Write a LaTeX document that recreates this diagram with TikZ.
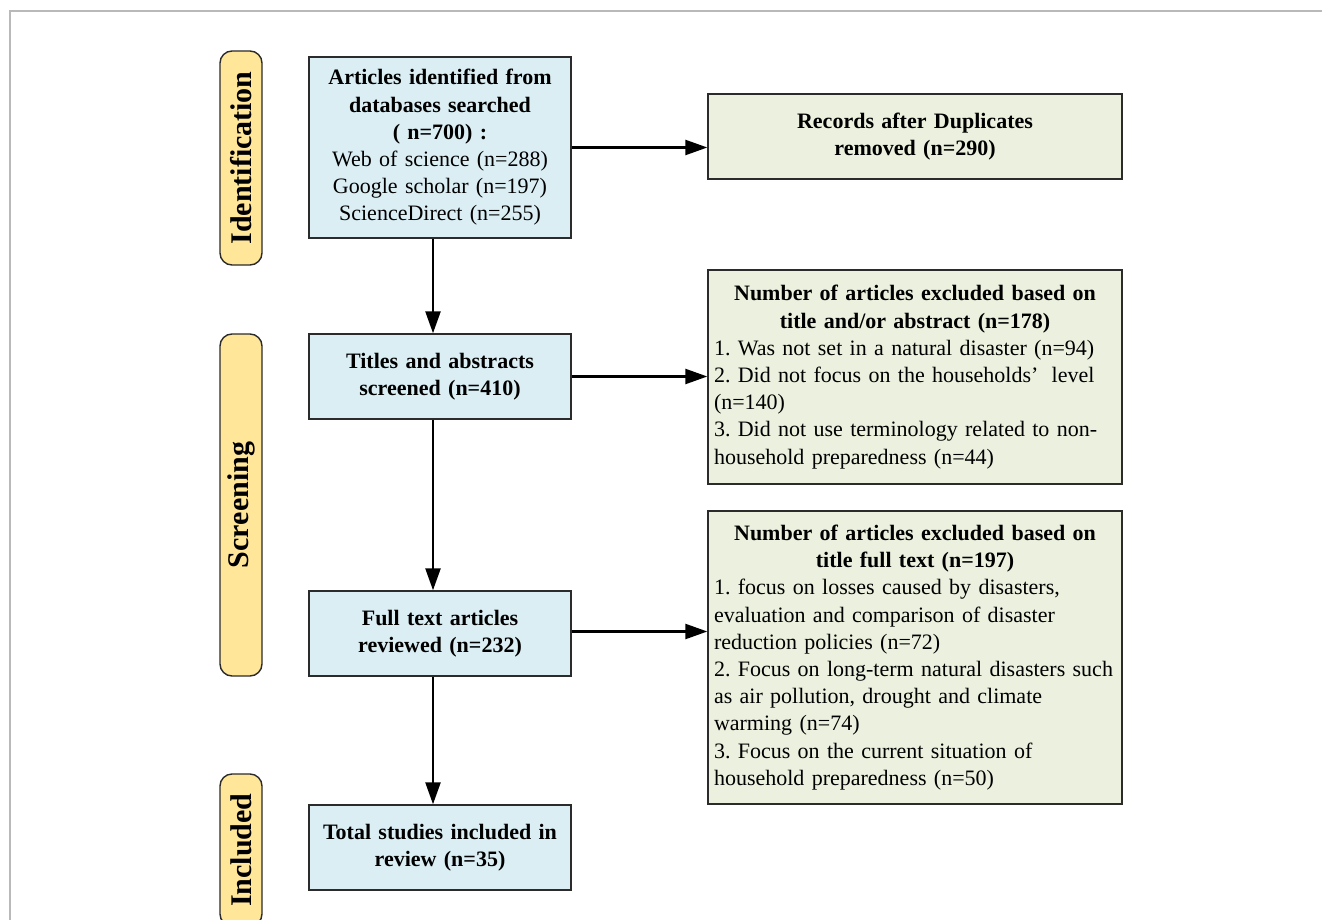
\documentclass[tikz,border=0pt]{standalone}
\usepackage{fontspec}
\setmainfont{Liberation Serif}
\usepackage{xcolor}
\usepackage{tikz}
\usetikzlibrary{arrows.meta, calc}

\definecolor{stagefill}{HTML}{FFE699}
\definecolor{mainfill}{HTML}{DAEEF3}
\definecolor{exclfill}{HTML}{EBF1DE}
\definecolor{boxline}{HTML}{2B2B2B}

\begin{document}
\frenchspacing
\begin{tikzpicture}[
  x=1pt, y=-1pt,
  every node/.style = {font=\fontsize{22}{27.2}\selectfont, text=black},
  mainbox/.style    = {draw=boxline, line width=1.4pt, fill=mainfill,
                       minimum width=262pt, minimum height=85pt,
                       text width=250pt, inner xsep=6pt, align=center},
  exclbox/.style    = {draw=boxline, line width=1.4pt, fill=exclfill,
                       minimum width=414pt, text width=402pt,
                       inner xsep=6pt, align=left},
  stage/.style      = {draw=boxline, line width=1.4pt, fill=stagefill,
                       rounded corners=12pt, rotate=90, minimum height=42pt,
                       inner sep=0pt, font=\fontsize{30}{30}\selectfont\bfseries},
  flow/.style       = {-{Triangle[length=22pt, width=15pt]}, line width=2.4pt},
]

%% ── Page and frame ───────────────────────────────────────────────────────
\useasboundingbox (0,0) rectangle (1322,920);
\draw[gray!55, line width=1.2pt] (10,920) -- (10,11) -- (1322,11);

\def\mx{440}    % centre of main column
\def\ex{915}    % centre of exclusion column
\def\sx{241}    % centre of stage labels

% ── Stage labels ────────────────────────────────────────────────────────────
\node[stage, minimum width=214pt] (ident)  at (\sx,158) {Identification};
\node[stage, minimum width=342pt] (screen) at (\sx,505) {Screening};
\node[stage, minimum width=152pt] (incl)   at (\sx,850) {Included};

% ── Main column ─────────────────────────────────────────────────────────────
\node[mainbox, minimum height=181pt] (found) at (\mx,147.5)
  {\textbf{Articles identified from}\\ \textbf{databases searched}\\ \textbf{( n=700) :}\\
   Web of science (n=288)\\ Google scholar (n=197)\\ ScienceDirect (n=255)};
\node[mainbox] (screened) at (\mx,376.5)
  {\textbf{Titles and abstracts}\\ \textbf{screened (n=410)}};
\node[mainbox] (fulltext) at (\mx,633.5)
  {\textbf{Full text articles}\\ \textbf{reviewed (n=232)}};
\node[mainbox] (included) at (\mx,847.5)
  {\textbf{Total studies included in}\\ \textbf{review (n=35)}};

% ── Exclusion column ────────────────────────────────────────────────────────
\node[exclbox, align=center, minimum height=85pt] (dup) at (\ex,136.5)
  {\textbf{Records after Duplicates}\\ \textbf{removed (n=290)}};

\node[exclbox, minimum height=214pt] (exabs) at (\ex,377)
  {{\centering\bfseries Number of articles excluded based on\\ title and/or abstract (n=178)\par}
   1. Was not set in a natural disaster (n=94)\\
   2. Did not focus on the households’\hspace{0.6em}level\\
   (n=140)\\
   3. Did not use terminology related to non-\\
   household preparedness (n=44)};

\node[exclbox, minimum height=293pt] (exfull) at (\ex,657.5)
  {{\centering\bfseries Number of articles excluded based on\\ title full text (n=197)\par}
   1. focus on losses caused by disasters,\\
   evaluation and comparison of disaster\\
   reduction policies (n=72)\\
   2. Focus on long-term natural disasters such\\
   as air pollution, drought and climate\\
   warming (n=74)\\
   3. Focus on the current situation of\\
   household preparedness (n=50)};

% ── Connectors ──────────────────────────────────────────────────────────────
\draw[flow] ([xshift=-7pt]found.south)    -- ([xshift=-7pt]screened.north);
\draw[flow] ([xshift=-7pt]screened.south) -- ([xshift=-7pt]fulltext.north);
\draw[flow] ([xshift=-7pt]fulltext.south) -- ([xshift=-7pt]included.north);

\draw[flow] (found.east)    -- (found.east -| dup.west);
\draw[flow] (screened.east) -- (screened.east -| exabs.west);
\draw[flow] ([yshift=2pt]fulltext.east) -- ([yshift=2pt]fulltext.east -| exfull.west);

\end{tikzpicture}
\end{document}
